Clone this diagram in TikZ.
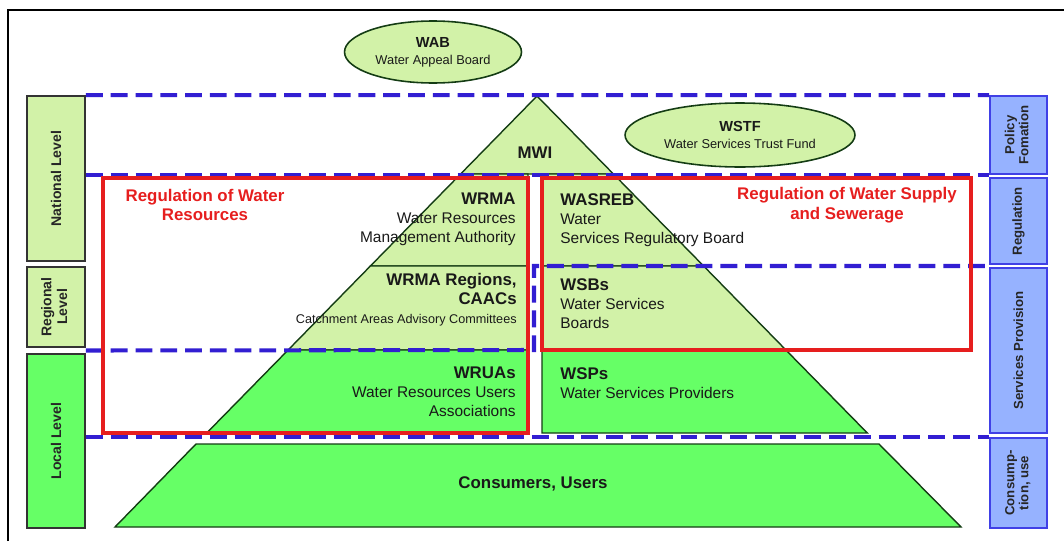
\documentclass[tikz,border=0pt]{standalone}
\usepackage{fontspec}
\setmainfont{Liberation Sans}
\usepackage{graphicx}
\usepackage{tikz}
\usetikzlibrary{shapes.geometric,calc}

\definecolor{palegreen}{RGB}{210,242,168}
\definecolor{brightgreen}{RGB}{102,255,102}
\definecolor{boxblue}{RGB}{150,178,255}
\definecolor{edgeblue}{RGB}{64,64,230}
\definecolor{dashblue}{RGB}{50,30,210}
\definecolor{regred}{RGB}{230,30,30}
\definecolor{edgegreen}{RGB}{20,60,20}

\newcommand{\hd}[1]{{\fontsize{9.6}{10.8}\selectfont\bfseries #1}}
\newcommand{\hdsmall}[1]{{\fontsize{8.3}{9.6}\selectfont\bfseries #1}}

\begin{document}
\begin{tikzpicture}[x=0.02cm,y=-0.02cm,
  layer/.style={draw=edgegreen,line width=0.8pt},
  lvlbox/.style={draw=black!80,line width=1.1pt,inner sep=0pt,font=\fontsize{8}{9}\selectfont\bfseries,text=black!85},
  rolebox/.style={draw=edgeblue,fill=boxblue,line width=1pt,inner sep=0pt,font=\fontsize{7.5}{8}\selectfont\bfseries,text=black!85},
  dashline/.style={draw=dashblue,line width=2.3pt,dash pattern=on 9.6pt off 4.5pt},
  regbox/.style={draw=regred,line width=1.8pt},
  txt/.style={font=\fontsize{8.8}{10.8}\selectfont,text=black!90,inner sep=0pt},
  org/.style={ellipse,draw=edgegreen,fill=palegreen,line width=0.9pt,inner sep=0pt,align=center,text=black!90,font=\fontsize{7.3}{9.6}\selectfont}]

\useasboundingbox (0,0) rectangle (1064,541);
\draw[line width=1.2pt] (8,541) -- (8,10) -- (1064,10);

% levels on the left
\node[lvlbox,fill=palegreen,minimum width=1.16cm,minimum height=3.30cm] (natl) at (56,178.5) {\rotatebox{90}{National Level}};
\node[lvlbox,fill=palegreen,minimum width=1.16cm,minimum height=1.60cm] (regl) at (56,307) {\rotatebox{90}{\begin{tabular}{@{}c@{}}Regional\\Level\end{tabular}}};
\node[lvlbox,fill=brightgreen,minimum width=1.16cm,minimum height=3.48cm] (locl) at (56,441) {\rotatebox{90}{Local Level}};

% functions on the right
\node[rolebox,minimum width=1.14cm,minimum height=1.56cm] (pol) at (1018.5,135) {\rotatebox{90}{\begin{tabular}{@{}c@{}}Policy\\Fomation\end{tabular}}};
\node[rolebox,minimum width=1.14cm,minimum height=1.72cm] (regu) at (1018.5,221) {\rotatebox{90}{Regulation}};
\node[rolebox,minimum width=1.14cm,minimum height=3.30cm] (serv) at (1018.5,350.5) {\rotatebox{90}{Services Provision}};
\node[rolebox,minimum width=1.14cm,minimum height=1.80cm] (cons) at (1018.5,483) {\rotatebox{90}{\begin{tabular}{@{}c@{}}Consump-\\tion, use\end{tabular}}};

% pyramid
\path[layer,fill=palegreen] (537,96) -- (613.4,174) -- (460.6,174) -- cycle;
\path[layer,fill=palegreen] (460.6,174) -- (528,174) -- (528,266) -- (370.4,266) -- cycle;
\path[layer,fill=palegreen] (370.4,266) -- (528,266) -- (528,350) -- (288.1,350) -- cycle;
\path[layer,fill=brightgreen] (288.1,350) -- (528,350) -- (528,433) -- (206.7,433) -- cycle;
\path[layer,fill=palegreen] (542,174) -- (613.4,174) -- (703.6,266) -- (542,266) -- cycle;
\path[layer,fill=palegreen] (542,266) -- (703.6,266) -- (785.9,350) -- (542,350) -- cycle;
\path[layer,fill=brightgreen] (542,350) -- (785.9,350) -- (867.3,433) -- (542,433) -- cycle;
\path[layer,fill=brightgreen] (196,444) -- (879,444) -- (961,527) -- (115,527) -- cycle;

% level borders
\draw[dashline] (natl.north east) -- (pol.north west);
\draw[dashline] (pol.south west -| natl.east) -- (pol.south west);
\draw[dashline] ($(regl.south east)!0.5!(locl.north east)$) -- (534,350) -- (534,266) -- ($(regu.south west)!0.5!(serv.north west)$);
\draw[dashline] (cons.north west -| natl.east) -- (cons.north west);

% regulation frames
\draw[regbox] (103,178) rectangle (528,433);
\draw[regbox] (542,178) rectangle (971,350);

\node[txt,text=regred,align=center,font=\fontsize{9.6}{11.3}\selectfont\bfseries] (regres) at (205,205) {Regulation of Water\\Resources};
\node[txt,text=regred,align=center,font=\fontsize{9.6}{11.3}\selectfont\bfseries] (regsup) at (847,205) {Regulation of Water Supply\\and Sewerage};

% boards
\node[org,minimum width=3.54cm,minimum height=1.24cm] (wab) at (433,52) {\hdsmall{WAB}\\Water Appeal Board};
\node[org,minimum width=4.60cm,minimum height=1.28cm] (wstf) at (740,135) {\hdsmall{WSTF}\\Water Services Trust Fund};

\node[txt] (mwi) at (535,153) {\hd{MWI}};
\node[txt,align=right,anchor=east] (wrma) at (516,219) {\hd{WRMA}\\Water Resources\\Management Authority};
\node[txt,align=right,anchor=east] (caacs) at (517,300) {\hd{WRMA Regions,}\\\hd{CAACs}\\{\fontsize{7.2}{9}\selectfont Catchment Areas Advisory Committees}};
\node[txt,align=right,anchor=east] (wruas) at (516,392) {\hd{WRUAs}\\Water Resources Users\\Associations};
\node[txt,align=left,anchor=west] (wasreb) at (560,220) {\hd{WASREB}\\Water\\Services Regulatory Board};
\node[txt,align=left,anchor=west] (wsbs) at (560,304) {\hd{WSBs}\\Water Services\\Boards};
\node[txt,align=left,anchor=west] (wsps) at (560,383) {\hd{WSPs}\\Water Services Providers};
\node[txt] (users) at (533,484) {\hd{Consumers, Users}};
\end{tikzpicture}
\end{document}
